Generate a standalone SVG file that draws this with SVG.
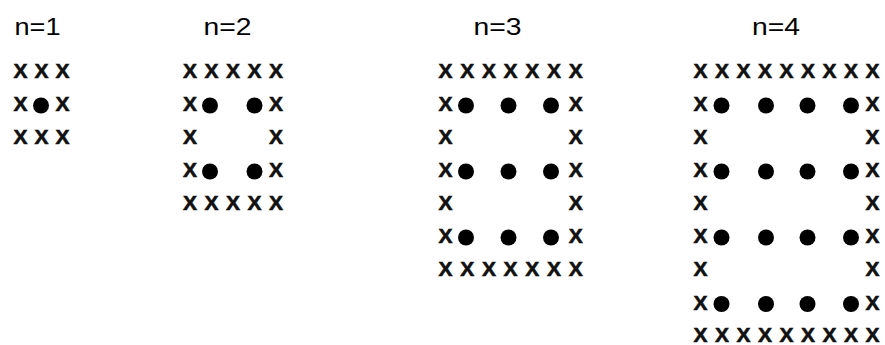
<svg xmlns="http://www.w3.org/2000/svg" width="885" height="345" viewBox="0 0 885 345">
<style>
.lbl{font-family:"Liberation Sans",Arial,sans-serif;font-size:23px;fill:#000;text-anchor:middle}
.x{font-family:"Liberation Sans",Arial,sans-serif;font-size:21px;font-weight:bold;fill:#111;stroke:#111;stroke-width:0.6;text-anchor:middle}
.d{fill:#000}
</style>
<rect width="885" height="345" fill="#fff"/>
<g id="panel1">
<text class="lbl" x="37.5" y="35" textLength="46" lengthAdjust="spacingAndGlyphs">n=1</text>
<text class="x" y="78"><tspan x="20.5">X</tspan><tspan x="41.5">X</tspan><tspan x="62.5">X</tspan></text>
<text class="x" y="111"><tspan x="20.5">X</tspan><tspan x="62.5">X</tspan></text>
<circle class="d" cx="41" cy="105.5" r="8"/>
<text class="x" y="144"><tspan x="20.5">X</tspan><tspan x="41.5">X</tspan><tspan x="62.5">X</tspan></text>
</g>
<g id="panel2">
<text class="lbl" x="227.5" y="35" textLength="48" lengthAdjust="spacingAndGlyphs">n=2</text>
<text class="x" y="78"><tspan x="190">X</tspan><tspan x="211.5">X</tspan><tspan x="233">X</tspan><tspan x="254.5">X</tspan><tspan x="276">X</tspan></text>
<text class="x" y="111"><tspan x="190">X</tspan><tspan x="276">X</tspan></text>
<circle class="d" cx="210" cy="105.5" r="8"/><circle class="d" cx="254.5" cy="105.5" r="8"/>
<text class="x" y="144"><tspan x="190">X</tspan><tspan x="276">X</tspan></text>
<text class="x" y="177"><tspan x="190">X</tspan><tspan x="276">X</tspan></text>
<circle class="d" cx="210" cy="171.5" r="8"/><circle class="d" cx="254.5" cy="171.5" r="8"/>
<text class="x" y="210"><tspan x="190">X</tspan><tspan x="211.5">X</tspan><tspan x="233">X</tspan><tspan x="254.5">X</tspan><tspan x="276">X</tspan></text>
</g>
<g id="panel3">
<text class="lbl" x="497.5" y="35" textLength="48" lengthAdjust="spacingAndGlyphs">n=3</text>
<text class="x" y="78"><tspan x="445.5">X</tspan><tspan x="467.2">X</tspan><tspan x="488.9">X</tspan><tspan x="510.6">X</tspan><tspan x="532.3">X</tspan><tspan x="554">X</tspan><tspan x="575.7">X</tspan></text>
<text class="x" y="111"><tspan x="445.5">X</tspan><tspan x="575.7">X</tspan></text>
<circle class="d" cx="466" cy="105.5" r="8"/><circle class="d" cx="508.5" cy="105.5" r="8"/><circle class="d" cx="551" cy="105.5" r="8"/>
<text class="x" y="144"><tspan x="445.5">X</tspan><tspan x="575.7">X</tspan></text>
<text class="x" y="177"><tspan x="445.5">X</tspan><tspan x="575.7">X</tspan></text>
<circle class="d" cx="466" cy="171.5" r="8"/><circle class="d" cx="508.5" cy="171.5" r="8"/><circle class="d" cx="551" cy="171.5" r="8"/>
<text class="x" y="210"><tspan x="445.5">X</tspan><tspan x="575.7">X</tspan></text>
<text class="x" y="243"><tspan x="445.5">X</tspan><tspan x="575.7">X</tspan></text>
<circle class="d" cx="466" cy="237.5" r="8"/><circle class="d" cx="508.5" cy="237.5" r="8"/><circle class="d" cx="551" cy="237.5" r="8"/>
<text class="x" y="276"><tspan x="445.5">X</tspan><tspan x="467.2">X</tspan><tspan x="488.9">X</tspan><tspan x="510.6">X</tspan><tspan x="532.3">X</tspan><tspan x="554">X</tspan><tspan x="575.7">X</tspan></text>
</g>
<g id="panel4">
<text class="lbl" x="776" y="35" textLength="48" lengthAdjust="spacingAndGlyphs">n=4</text>
<text class="x" y="78"><tspan x="700.5">X</tspan><tspan x="722">X</tspan><tspan x="743.5">X</tspan><tspan x="765">X</tspan><tspan x="786.5">X</tspan><tspan x="808">X</tspan><tspan x="829.5">X</tspan><tspan x="851">X</tspan><tspan x="872.5">X</tspan></text>
<text class="x" y="111"><tspan x="700.5">X</tspan><tspan x="872.5">X</tspan></text>
<circle class="d" cx="721.5" cy="105.5" r="8"/><circle class="d" cx="766" cy="105.5" r="8"/><circle class="d" cx="807.5" cy="105.5" r="8"/><circle class="d" cx="851" cy="105.5" r="8"/>
<text class="x" y="144"><tspan x="700.5">X</tspan><tspan x="872.5">X</tspan></text>
<text class="x" y="177"><tspan x="700.5">X</tspan><tspan x="872.5">X</tspan></text>
<circle class="d" cx="721.5" cy="171.5" r="8"/><circle class="d" cx="766" cy="171.5" r="8"/><circle class="d" cx="807.5" cy="171.5" r="8"/><circle class="d" cx="851" cy="171.5" r="8"/>
<text class="x" y="210"><tspan x="700.5">X</tspan><tspan x="872.5">X</tspan></text>
<text class="x" y="243"><tspan x="700.5">X</tspan><tspan x="872.5">X</tspan></text>
<circle class="d" cx="721.5" cy="237.5" r="8"/><circle class="d" cx="766" cy="237.5" r="8"/><circle class="d" cx="807.5" cy="237.5" r="8"/><circle class="d" cx="851" cy="237.5" r="8"/>
<text class="x" y="276"><tspan x="700.5">X</tspan><tspan x="872.5">X</tspan></text>
<text class="x" y="309.5"><tspan x="700.5">X</tspan><tspan x="872.5">X</tspan></text>
<circle class="d" cx="721.5" cy="304" r="8"/><circle class="d" cx="766" cy="304" r="8"/><circle class="d" cx="807.5" cy="304" r="8"/><circle class="d" cx="851" cy="304" r="8"/>
<text class="x" y="342"><tspan x="700.5">X</tspan><tspan x="722">X</tspan><tspan x="743.5">X</tspan><tspan x="765">X</tspan><tspan x="786.5">X</tspan><tspan x="808">X</tspan><tspan x="829.5">X</tspan><tspan x="851">X</tspan><tspan x="872.5">X</tspan></text>
</g>
</svg>
